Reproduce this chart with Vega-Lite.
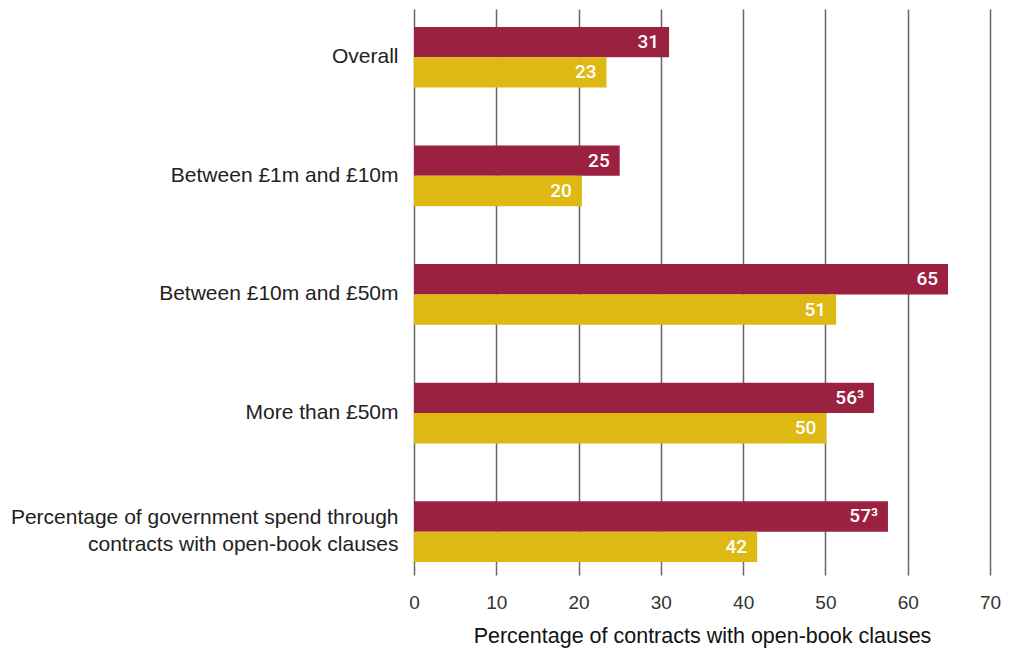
{
  "$schema": "https://vega.github.io/schema/vega-lite/v6.json",
  "autosize": {"type": "none"},
  "width": 576,
  "height": 556,
  "padding": {"left": 414, "top": 9, "right": 19, "bottom": 83},
  "background": "white",
  "config": {
    "view": {"stroke": null},
    "font": "Liberation Sans"
  },
  "data": {
    "values": [
      {"category": "Overall", "series": "Series 1", "value": 31.0, "label": "31"},
      {"category": "Overall", "series": "Series 2", "value": 23.4, "label": "23"},
      {"category": "Between £1m and £10m", "series": "Series 1", "value": 25.0, "label": "25"},
      {"category": "Between £1m and £10m", "series": "Series 2", "value": 20.4, "label": "20"},
      {"category": "Between £10m and £50m", "series": "Series 1", "value": 64.9, "label": "65"},
      {"category": "Between £10m and £50m", "series": "Series 2", "value": 51.3, "label": "51"},
      {"category": "More than £50m", "series": "Series 1", "value": 55.9, "label": "56³"},
      {"category": "More than £50m", "series": "Series 2", "value": 50.1, "label": "50"},
      {"category": "Percentage of government spend through|contracts with open-book clauses", "series": "Series 1", "value": 57.6, "label": "57³"},
      {"category": "Percentage of government spend through|contracts with open-book clauses", "series": "Series 2", "value": 41.7, "label": "42"}
    ]
  },
  "encoding": {
    "y": {
      "field": "category",
      "type": "nominal",
      "sort": null,
      "scale": {"paddingInner": 0.488, "paddingOuter": 0.088, "align": 0.857},
      "axis": {
        "title": null,
        "domain": false,
        "ticks": false,
        "labelPadding": 16,
        "labelFontSize": 21,
        "labelColor": "#222222",
        "labelLineHeight": 27,
        "labelLimit": 420,
        "labelOffset": {"condition": {"test": "indexof(datum.value, '|') >= 0", "value": -13.5}, "value": 0},
        "labelExpr": "split(datum.value, '|')"
      }
    },
    "yOffset": {"field": "series", "type": "nominal", "sort": ["Series 1", "Series 2"]},
    "x": {
      "field": "value",
      "type": "quantitative",
      "scale": {"domain": [0, 70], "nice": false},
      "axis": {
        "values": [0, 10, 20, 30, 40, 50, 60, 70],
        "domain": false,
        "grid": true,
        "gridColor": "#666666",
        "gridWidth": 1.5,
        "tickColor": "#666666",
        "tickWidth": 1.5,
        "tickSize": 10,
        "labelFlush": false,
        "labelPadding": 18,
        "labelFontSize": 19,
        "labelColor": "#333333",
        "title": "Percentage of contracts with open-book clauses",
        "titleFontSize": 21.5,
        "titleFontWeight": "normal",
        "titleColor": "#111111",
        "titlePadding": 13
      }
    }
  },
  "layer": [
    {
      "mark": {"type": "bar"},
      "encoding": {
        "color": {
          "field": "series",
          "type": "nominal",
          "scale": {"domain": ["Series 1", "Series 2"], "range": ["#9B2140", "#DEB914"]},
          "legend": null
        }
      }
    },
    {
      "mark": {"type": "text", "align": "right", "baseline": "middle", "dx": -10, "color": "white", "font": "Roboto", "fontSize": 19, "fontWeight": 500},
      "encoding": {
        "text": {"field": "label"}
      }
    }
  ]
}
